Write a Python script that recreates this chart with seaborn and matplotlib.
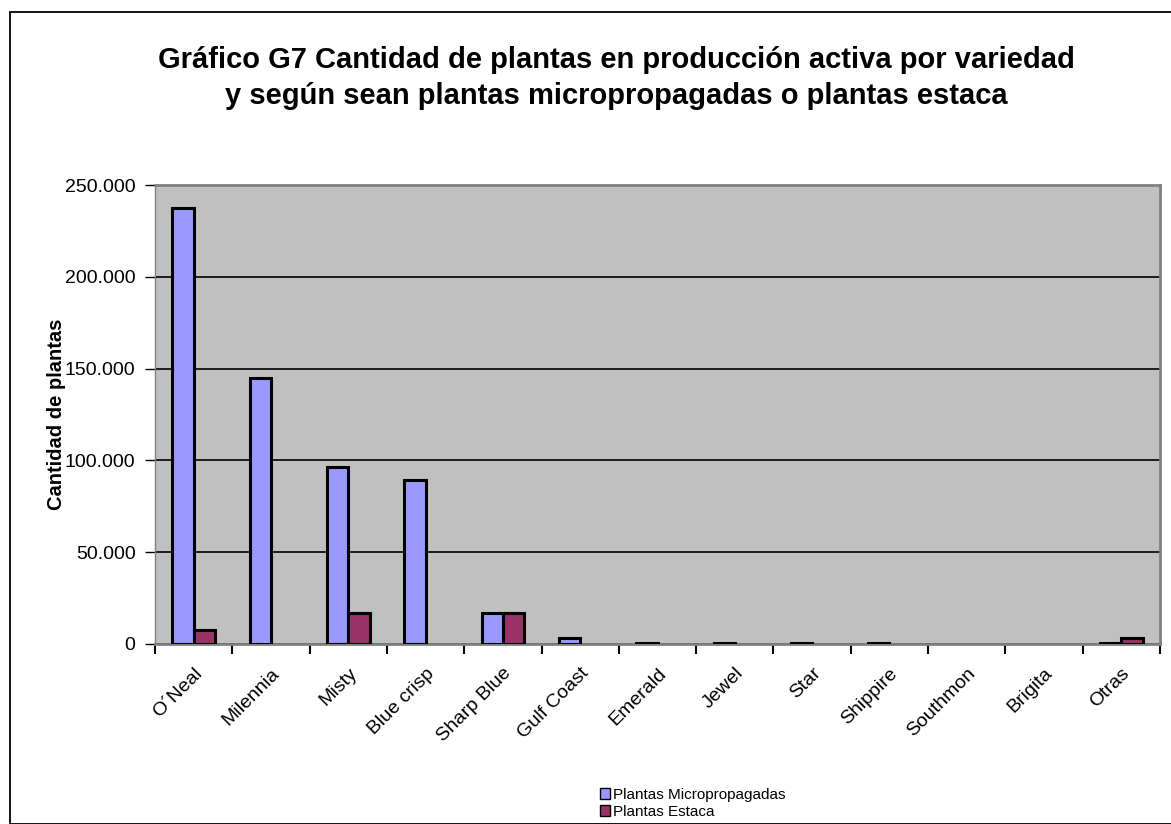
import numpy as np
import pandas as pd
import matplotlib.pyplot as plt
import matplotlib.ticker as mticker
from matplotlib.patches import Patch, Rectangle
import seaborn as sns

# values
variedades = ['O´Neal', 'Milennia', 'Misty', 'Blue crisp', 'Sharp Blue', 'Gulf Coast',
              'Emerald', 'Jewel', 'Star', 'Shippire', 'Southmon', 'Brigita', 'Otras']
micropropagadas = [237500, 145000, 96500, 89500, 17000, 3000, 600, 600, 600, 600, 0, 0, 600]
estaca = [7500, 0, 17000, 0, 17000, 0, 0, 0, 0, 0, 0, 0, 3500]
series = ['Plantas Micropropagadas', 'Plantas Estaca']
colores = ['#9999FF', '#993366']

df = pd.DataFrame({
    'variedad': variedades * 2,
    'tipo': [series[0]] * len(variedades) + [series[1]] * len(variedades),
    'cantidad': micropropagadas + estaca,
})

sns.set_style('white')
plt.rcParams['font.family'] = ['Liberation Sans', 'DejaVu Sans']
plt.rcParams['text.color'] = 'black'
plt.rcParams['axes.labelcolor'] = 'black'
plt.rcParams['xtick.color'] = 'black'
plt.rcParams['ytick.color'] = 'black'

W, H = 1171, 824
fig = plt.figure(figsize=(W / 100, H / 100), dpi=100)
# outer chart frame
fig.patches.append(Rectangle((10 / W, 0), 1.5, (H - 12) / H, transform=fig.transFigure,
                             fill=False, edgecolor='black', linewidth=1.3))

ax = fig.add_axes([155 / W, (H - 644) / H, 1005 / W, (644 - 185) / H])
ax.set_facecolor('#C0C0C0')

sns.barplot(data=df, x='variedad', y='cantidad', hue='tipo', palette=colores,
            width=0.55, edgecolor='black', linewidth=2.2, saturation=1,
            legend=False, ax=ax, zorder=3)
for p in ax.patches:
    if p.get_height() == 0:
        p.set_visible(False)

ax.set_ylim(0, 250000)
ax.set_xlim(-0.5, len(variedades) - 0.5)
ax.yaxis.set_major_locator(mticker.MultipleLocator(50000))
ax.yaxis.set_major_formatter(mticker.FuncFormatter(lambda v, _: f'{int(v):,}'.replace(',', '.')))
ax.grid(axis='y', color='black', linewidth=1.2, zorder=1)
ax.set_axisbelow(True)

for s in ax.spines.values():
    s.set_color('#808080')
    s.set_linewidth(2)
ax.spines['left'].set_linewidth(1)

ax.set_xticks(np.arange(len(variedades) + 1) - 0.5, minor=True)
ax.tick_params(axis='x', which='minor', length=7, width=1.5, color='black', bottom=True)
ax.tick_params(axis='x', which='major', length=0, pad=15)
ax.tick_params(axis='y', length=7, width=1, color='black', left=True, labelsize=14, pad=7)
plt.setp(ax.get_xticklabels(), rotation=45, ha='right', rotation_mode='anchor', fontsize=14)

ax.set_xlabel('')
ax.set_ylabel('Cantidad de plantas', fontsize=14.5, fontweight='bold', labelpad=-1)

fig.text(616 / W, 1 - 78 / H,
         'Gráfico G7 Cantidad de plantas en producción activa por variedad\n'
         'y según sean plantas micropropagadas o plantas estaca',
         ha='center', va='center', fontsize=21, fontweight='bold', linespacing=1.4)

handles = [Patch(facecolor=c, edgecolor='black', linewidth=1) for c in colores]
fig.legend(handles, series, loc='upper left', bbox_to_anchor=(592 / W, 1 - 780 / H),
           frameon=False, fontsize=11, handlelength=0.7, handleheight=0.7,
           handletextpad=0.15, labelspacing=0.2, borderpad=0)

fig.savefig('out.png', dpi=100)
